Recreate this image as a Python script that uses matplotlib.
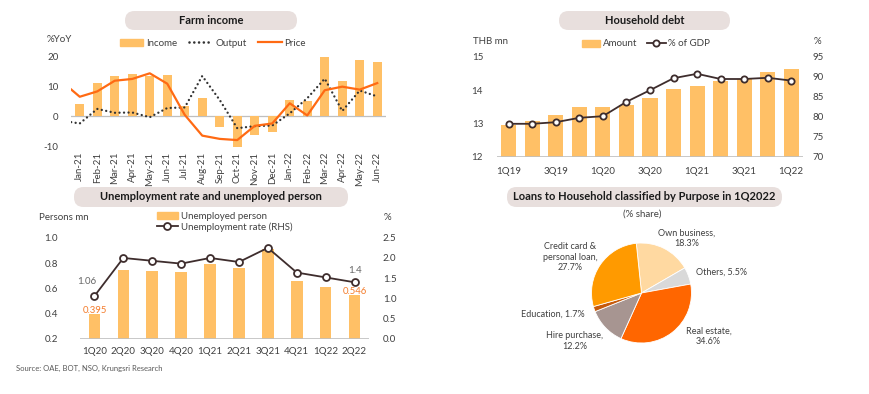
import matplotlib
matplotlib.use("Agg")
import matplotlib.pyplot as plt
from matplotlib.patches import FancyBboxPatch, Patch
from matplotlib.lines import Line2D
import numpy as np

plt.rcParams['font.family'] = ['Lato', 'DejaVu Sans']
plt.rcParams['axes.unicode_minus'] = False

W, H = 870, 394

# --- Farm income (%YoY) ---
farm_months = ['Jan-21', 'Feb-21', 'Mar-21', 'Apr-21', 'May-21', 'Jun-21', 'Jul-21', 'Aug-21', 'Sep-21',
               'Oct-21', 'Nov-21', 'Dec-21', 'Jan-22', 'Feb-22', 'Mar-22', 'Apr-22', 'May-22', 'Jun-22']
farm_income = [4.2, 11.3, 13.5, 14.3, 13.6, 13.9, 3.5, 6.2, -3.5, -10.2, -6.3, -5.3, 5.5, 5.3, 20.1, 11.9, 19.0, 18.4]
# line series start one month earlier (Dec-20), partly clipped at the left edge
farm_output = [-1.5, -2.4, 2.5, 1.2, 1.3, -0.3, 2.8, 3.0, 13.6, 5.5, -4.0, -3.3, -3.1, 1.0, 6.1, 12.7, 1.8, 8.7, 6.7]
farm_price = [11.6, 6.6, 8.4, 12.0, 12.6, 14.5, 11.0, 0.5, -6.5, -7.6, -8.0, -3.2, -2.4, 4.4, 0.3, 8.8, 10.0, 9.0, 11.2]

# --- Household debt ---
hh_quarters = ['1Q19', '2Q19', '3Q19', '4Q19', '1Q20', '2Q20', '3Q20', '4Q20', '1Q21', '2Q21', '3Q21', '4Q21', '1Q22']
hh_amount = [12.97, 13.09, 13.25, 13.49, 13.50, 13.57, 13.76, 14.03, 14.13, 14.27, 14.35, 14.56, 14.64]
hh_gdp = [78.3, 78.3, 78.7, 79.8, 80.2, 83.8, 86.7, 89.7, 90.8, 89.5, 89.5, 89.8, 89.1]

# --- Unemployment ---
un_quarters = ['1Q20', '2Q20', '3Q20', '4Q20', '1Q21', '2Q21', '3Q21', '4Q21', '1Q22', '2Q22']
un_persons = [0.395, 0.745, 0.737, 0.726, 0.789, 0.763, 0.911, 0.658, 0.608, 0.546]
un_rate = [1.06, 2.0, 1.93, 1.86, 2.0, 1.9, 2.25, 1.64, 1.52, 1.4]

# --- Loans by purpose 1Q2022 ---
loan_labels = ['Own business', 'Others', 'Real estate', 'Hire purchase', 'Education', 'Credit card &\npersonal loan']
loan_share = [18.3, 5.5, 34.6, 12.2, 1.7, 27.7]
loan_colors = ['#FFD9A1', '#D9D9D9', '#FF6600', '#A79591', '#C65A0B', '#FF9A00']

BAR = '#FFC066'
TXT = '#404040'
BASE = '#BFBFBF'


def px_axes(x0, y0, x1, y1):
    return fig.add_axes([x0 / W, 1 - y1 / H, (x1 - x0) / W, (y1 - y0) / H])


def ftext(x, y, s, **kw):
    kw.setdefault('color', TXT)
    kw.setdefault('fontsize', 7)
    fig.text(x / W, 1 - y / H, s, **kw)


def title_box(x0, x1, y0, y1, s):
    box = FancyBboxPatch((x0 / 100, (H - y1) / 100), (x1 - x0) / 100, (y1 - y0) / 100,
                         boxstyle="round,pad=0,rounding_size=0.095",
                         transform=fig.dpi_scale_trans, facecolor='#E8DFDD', edgecolor='none')
    fig.patches.append(box)
    ftext((x0 + x1) / 2, (y0 + y1) / 2, s, ha='center', va='center', fontsize=8,
          fontweight='bold', color='#1a1a1a')


def clean(ax):
    for sp in ax.spines.values():
        sp.set_visible(False)
    ax.tick_params(length=0, colors=TXT, labelsize=7)


fig = plt.figure(figsize=(W / 100, H / 100), dpi=100)
fig.patch.set_facecolor('white')

# ---------------- Farm income ----------------
title_box(125, 297, 11, 30, 'Farm income')
ax = px_axes(71, 55.5, 386, 147.5)
x = np.arange(len(farm_months))
xl = np.arange(-1, len(farm_months))
ax.bar(x, farm_income, width=0.5, color=BAR)
ax.plot(xl, farm_output, color='#333333', lw=1.7, linestyle=(0, (0.01, 1.9)), dash_capstyle='round')
ax.plot(xl, farm_price, color='#FF6A13', lw=1.6)
ax.axhline(0, color=BASE, lw=0.9, zorder=0)
ax.set_xlim(-0.5, len(farm_months) - 0.5)
ax.set_ylim(-10.5, 20.5)
ax.set_yticks([-10, 0, 10, 20])
ax.set_xticks(x)
ax.set_xticklabels(farm_months, rotation=90)
clean(ax)
ax.tick_params(axis='y', pad=9)
ax.tick_params(axis='x', pad=3)
ftext(47, 40, '%YoY', va='center')
handles = [Patch(color=BAR),
           Line2D([], [], color='#333333', lw=1.9, linestyle=(0, (0.01, 1.8)), dash_capstyle='round'),
           Line2D([], [], color='#FF6A13', lw=1.6)]
fig.legend(handles, ['Income', 'Output', 'Price'], ncol=3, frameon=False, fontsize=7,
           loc='center', bbox_to_anchor=(213 / W, 1 - 43 / H), handlelength=2.4, handleheight=0.7,
           columnspacing=1.2, handletextpad=0.3, labelcolor=TXT)

# ---------------- Household debt ----------------
title_box(559, 730, 11, 30, 'Household debt')
ax = px_axes(497, 57, 803, 157)
x = np.arange(len(hh_quarters))
ax.bar(x, [v - 12 for v in hh_amount], bottom=12, width=0.64, color=BAR)
ax.axhline(12, color=BASE, lw=1.2)
ax.set_ylim(12, 15)
ax.set_yticks([12, 13, 14, 15])
ax.set_xlim(-0.5, len(hh_quarters) - 0.5)
ax.set_xticks(x[::2])
ax.set_xticklabels(hh_quarters[::2])
clean(ax)
ax.tick_params(axis='y', pad=10)
ax.tick_params(axis='x', pad=7)
ax2 = ax.twinx()
ax2.plot(x, hh_gdp, color='#3E2D2D', lw=1.3, marker='o', ms=4.5, mfc='white', mec='#3E2D2D', mew=1.3)
ax2.set_ylim(70, 95)
ax2.set_yticks([70, 75, 80, 85, 90, 95])
clean(ax2)
ax2.tick_params(axis='y', pad=7)
ftext(473, 41, 'THB mn', va='center')
ftext(814, 41, '%', va='center')
handles = [Patch(color=BAR),
           Line2D([], [], color='#3E2D2D', lw=1.3, marker='o', ms=4.5, mfc='white', mec='#3E2D2D', mew=1.3)]
fig.legend(handles, ['Amount', '% of GDP'], ncol=2, frameon=False, fontsize=7,
           loc='center', bbox_to_anchor=(646 / W, 1 - 44 / H), handlelength=1.9, handleheight=0.7,
           columnspacing=1.0, handletextpad=0.3, labelcolor=TXT)

# ---------------- Unemployment ----------------
title_box(74, 348, 187, 207, 'Unemployment rate and unemployed person')
ax = px_axes(80, 237.7, 369, 339)
x = np.arange(len(un_quarters))
ax.bar(x, [v - 0.2 for v in un_persons], bottom=0.2, width=0.4, color=BAR)
ax.axhline(0.2, color=BASE, lw=1.2)
ax.set_ylim(0.2, 1.0)
ax.set_yticks([0.2, 0.4, 0.6, 0.8, 1.0])
ax.set_yticklabels([f'{v:.1f}' for v in [0.2, 0.4, 0.6, 0.8, 1.0]])
ax.set_xlim(-0.5, len(un_quarters) - 0.5)
ax.set_xticks(x)
ax.set_xticklabels(un_quarters)
clean(ax)
ax.tick_params(axis='y', pad=16)
ax.tick_params(axis='x', pad=6)
ax2 = ax.twinx()
ax2.plot(x, un_rate, color='#3E2D2D', lw=1.3, marker='o', ms=5, mfc='white', mec='#3E2D2D', mew=1.3)
ax2.set_ylim(0, 2.5)
ax2.set_yticks([0, 0.5, 1.0, 1.5, 2.0, 2.5])
ax2.set_yticklabels([f'{v:.1f}' for v in [0, 0.5, 1.0, 1.5, 2.0, 2.5]])
clean(ax2)
ax2.tick_params(axis='y', pad=10)
ax2.annotate(f'{un_rate[0]}', (x[0], un_rate[0]), xytext=(-5.5, 10.8), textcoords='offset points',
             ha='center', va='center', color='#666666', fontsize=7)
ax2.annotate(f'{un_rate[-1]}', (x[-1], un_rate[-1]), xytext=(0, 5), textcoords='offset points',
             ha='center', va='bottom', color='#666666', fontsize=7)
# bar value labels on the top axes so they stay readable next to the markers
for i in (0, len(un_persons) - 1):
    ax2.annotate(f'{un_persons[i]}', (x[i], un_persons[i]), xycoords=ax.transData, xytext=(0, 1.0),
                 textcoords='offset points', ha='center', va='baseline', color='#F47B2A', fontsize=6.8)
ftext(39, 217, 'Persons mn', va='center')
ftext(384, 218, '%', va='center')
handles = [Patch(color=BAR),
           Line2D([], [], color='#3E2D2D', lw=1.3, marker='o', ms=5, mfc='white', mec='#3E2D2D', mew=1.3)]
fig.legend(handles, ['Unemployed person', 'Unemployment rate (RHS)'], ncol=1, frameon=False, fontsize=7,
           loc='upper left', bbox_to_anchor=(148 / W, 1 - 203 / H), handlelength=2.2, handleheight=0.7,
           labelspacing=0.15, handletextpad=0.3, labelcolor=TXT)
ftext(16, 368, 'Source: OAE, BOT, NSO, Krungsri Research', va='center', fontsize=5.5, color='#595959')

# ---------------- Loans pie ----------------
title_box(507, 782, 187, 207, 'Loans to Household classified by Purpose in 1Q2022')
ftext(642, 214, '(% share)', ha='center', va='center')
ax = px_axes(541.5, 193, 741.5, 393)
ax.pie(loan_share, colors=loan_colors, startangle=96, counterclock=False, radius=1.0,
       wedgeprops=dict(linewidth=0.6, edgecolor='white'))
ax.set_xlim(-2, 2)
ax.set_ylim(-2, 2)
ax.set_aspect('auto')
label_pos = [(0.91, 1.10), (1.61, 0.42), (1.34, -0.86), (-1.33, -0.96), (-1.77, -0.42), (-1.43, 0.72)]
for name, val, (lx, ly) in zip(loan_labels, loan_share, label_pos):
    if name in ('Others', 'Education'):
        s = f'{name}, {val}%'
    else:
        s = f'{name},\n{val}%'
    ax.text(lx, ly, s, ha='center', va='center', fontsize=6.5, color=TXT, linespacing=1.15)

fig.savefig('out.png', dpi=100, facecolor='white')
